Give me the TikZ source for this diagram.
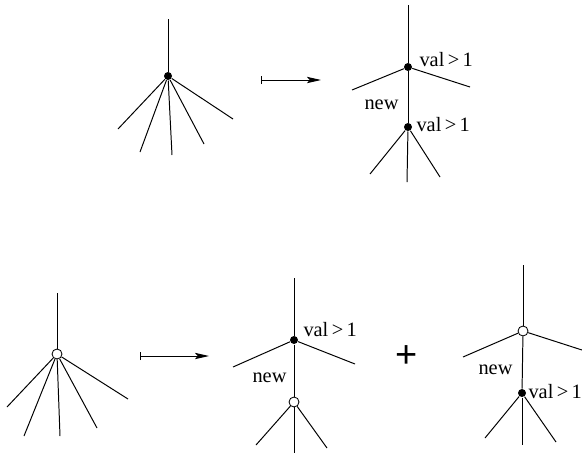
\documentclass[tikz,border=0pt]{standalone}
\usepackage{fontspec}
\setmainfont{Liberation Serif}
\newfontfamily\plusfont{Liberation Sans}
\usetikzlibrary{arrows.meta}

\begin{document}
\begin{tikzpicture}[x={(0.025cm,0)}, y={(0,-0.025cm)}, line width=0.7pt,
    dot/.style={circle, fill=black, inner sep=0pt, minimum size=0.2cm},
    hollow/.style={circle, draw=black, fill=white, line width=0.6pt, inner sep=0pt, minimum size=0.25cm},
    lbl/.style={font=\fontsize{14.5}{17}\selectfont, inner sep=0pt},
    mapsto/.style={{Bar[width=6pt]}-{Stealth[length=10pt, width=4.5pt, inset=2pt]}}]
  \useasboundingbox (0,0) rectangle (582,454);

  % Top left: one vertex, six edges
  \node[dot] (tlroot) at (168,76) {};
  \coordinate (tltop) at (168,19);
  \coordinate (tl1) at (118,129);
  \coordinate (tl2) at (140,152);
  \coordinate (tl3) at (172,155);
  \coordinate (tl4) at (204,144);
  \coordinate (tl5) at (233,119);
  \draw (tlroot) -- (tltop);
  \foreach \i in {1,...,5} \draw (tlroot) -- (tl\i);

  % Top arrow
  \coordinate (tafrom) at (261,80);
  \coordinate (tato)   at (321,80);
  \draw[mapsto] (tafrom) -- (tato);

  % Top right: split into two vertices
  \node[dot] (trup)  at (408,67) {};
  \node[dot] (trlow) at (408,127) {};
  \coordinate (trtop) at (408,5);
  \coordinate (trl) at (352,90);
  \coordinate (trr) at (470,87);
  \coordinate (trb1) at (370,174);
  \coordinate (trb2) at (407,182);
  \coordinate (trb3) at (440,177);
  \draw (trup) -- (trtop);
  \draw (trup) -- (trl);
  \draw (trup) -- (trr);
  \draw (trup) -- (trlow);
  \foreach \i in {1,2,3} \draw (trlow) -- (trb\i);
  \node[lbl, anchor=west] (trupval)  at (419,60)  {val\,>\,1};
  \node[lbl, anchor=west] (trlowval) at (416,125) {val\,>\,1};
  \node[lbl, anchor=east] (trnew)    at (399,105) {new};

  % Bottom left: open vertex, six edges
  \node[hollow] (blroot) at (57,354) {};
  \coordinate (bltop) at (57,293);
  \coordinate (bl1) at (7,407);
  \coordinate (bl2) at (24,436);
  \coordinate (bl3) at (60,436);
  \coordinate (bl4) at (97,428);
  \coordinate (bl5) at (128,399);
  \draw (blroot) -- (bltop);
  \foreach \i in {1,...,5} \draw (blroot) -- (bl\i);

  % Bottom arrow
  \coordinate (bafrom) at (140,356);
  \coordinate (bato)   at (209,356);
  \draw[mapsto] (bafrom) -- (bato);

  % Bottom middle: filled above, open below
  \node[dot] (bmup) at (294,340) {};
  \node[hollow] (bmlow) at (294,402) {};
  \coordinate (bmtop) at (294,278);
  \coordinate (bml) at (233,367);
  \coordinate (bmr) at (355,364);
  \coordinate (bmb1) at (256,445);
  \coordinate (bmb2) at (294,453);
  \coordinate (bmb3) at (327,448);
  \draw (bmup) -- (bmtop);
  \draw (bmup) -- (bml);
  \draw (bmup) -- (bmr);
  \draw (bmup) -- (bmlow);
  \foreach \i in {1,2,3} \draw (bmlow) -- (bmb\i);
  \node[lbl, anchor=west] (bmval) at (303,330) {val\,>\,1};
  \node[lbl, anchor=east] (bmnew) at (287,378) {new};

  % Plus sign
  \node[font=\plusfont\fontsize{27}{27}\selectfont, inner sep=0pt] (plus) at (407,357) {+};

  % Bottom right: open above, filled below
  \node[hollow] (brup) at (523,331) {};
  \node[dot] (brlow) at (522,393) {};
  \coordinate (brtop) at (523,265);
  \coordinate (brl) at (463,357);
  \coordinate (brr) at (582,350);
  \coordinate (brb1) at (485,438);
  \coordinate (brb2) at (522,445);
  \coordinate (brb3) at (556,442);
  \draw (brup) -- (brtop);
  \draw (brup) -- (brl);
  \draw (brup) -- (brr);
  \draw (brup) -- (brlow);
  \foreach \i in {1,2,3} \draw (brlow) -- (brb\i);
  \node[lbl, anchor=east] (brnew) at (513,370) {new};
  \node[lbl, anchor=west] (brval) at (528,392) {val\,>\,1};
\end{tikzpicture}
\end{document}
